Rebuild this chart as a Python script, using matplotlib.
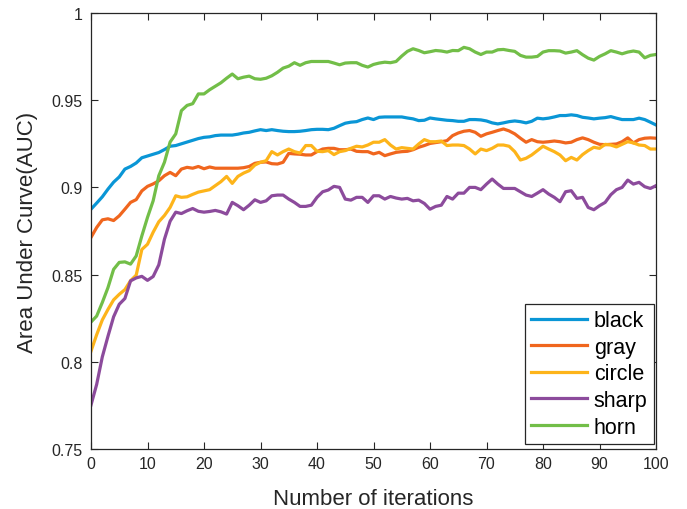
import numpy as np
import matplotlib
matplotlib.use('Agg')
import matplotlib.pyplot as plt

plt.rcParams['font.family'] = ['Liberation Sans', 'DejaVu Sans']

# AUC 读数（每次迭代一个点）
iterations = np.arange(0, 101)

black = [0.8875, 0.891, 0.8946, 0.899, 0.903, 0.906, 0.9105, 0.912, 0.914, 0.917, 0.918,
         0.919, 0.920, 0.9217, 0.9236, 0.924, 0.925, 0.926, 0.927, 0.928, 0.9287,
         0.929, 0.9297, 0.930, 0.930, 0.930, 0.9305, 0.9312, 0.9316, 0.9324, 0.9331,
         0.9326, 0.9331, 0.9326, 0.9322, 0.932, 0.932, 0.9322, 0.9326, 0.9331, 0.9333,
         0.9333, 0.9331, 0.9339, 0.9354, 0.9368, 0.9374, 0.9377, 0.9389, 0.9398, 0.9389,
         0.9402, 0.9404, 0.9404, 0.9404, 0.9404, 0.9398, 0.9393, 0.9383, 0.9385, 0.9398,
         0.9393, 0.9389, 0.9385, 0.9383, 0.9379, 0.9379, 0.9389, 0.9389, 0.9387, 0.9381,
         0.937, 0.9364, 0.937, 0.9377, 0.9381, 0.9377, 0.937, 0.9379, 0.9397, 0.9393,
         0.9397, 0.9404, 0.9412, 0.9412, 0.9416, 0.9412, 0.9402, 0.9398, 0.9393, 0.9397,
         0.94, 0.9406, 0.9397, 0.9389, 0.9389, 0.9389, 0.9397, 0.9389, 0.9374, 0.9358]

gray = [0.8713, 0.877, 0.8814, 0.882, 0.881, 0.8837, 0.8875, 0.8914, 0.893, 0.898, 0.9006,
        0.902, 0.9038, 0.9067, 0.9086, 0.9067, 0.9105, 0.9115, 0.911, 0.912, 0.9107,
        0.9117, 0.911, 0.911, 0.911, 0.911, 0.911, 0.9113, 0.912, 0.9138, 0.9144,
        0.9146, 0.9136, 0.9134, 0.9144, 0.9195, 0.9192, 0.919, 0.9186, 0.9186, 0.9205,
        0.922, 0.9224, 0.9224, 0.9216, 0.9216, 0.922, 0.9207, 0.9205, 0.9205, 0.9192,
        0.9201, 0.9182, 0.9192, 0.9201, 0.9205, 0.9207, 0.9216, 0.923, 0.924, 0.9252,
        0.9257, 0.9262, 0.9268, 0.9297, 0.9312, 0.9322, 0.9326, 0.9316, 0.9293, 0.9307,
        0.9316, 0.9326, 0.9335, 0.9324, 0.9307, 0.9282, 0.9259, 0.9274, 0.9262, 0.9259,
        0.9262, 0.9266, 0.9262, 0.9255, 0.9259, 0.9274, 0.9284, 0.9274, 0.9259, 0.9247,
        0.9245, 0.9247, 0.9249, 0.9262, 0.9284, 0.9255, 0.9274, 0.9282, 0.9284, 0.9282]

circle = [0.8061, 0.8155, 0.824, 0.830, 0.8355, 0.8387, 0.8414, 0.8465, 0.8497, 0.8644, 0.8674,
          0.8743, 0.8803, 0.8839, 0.8885, 0.8952, 0.8943, 0.8946, 0.896, 0.8973, 0.898,
          0.8987, 0.901, 0.9033, 0.9063, 0.9023, 0.9063, 0.9082, 0.9096, 0.9128, 0.9144,
          0.9153, 0.9205, 0.9186, 0.9205, 0.922, 0.9205, 0.9197, 0.924, 0.924, 0.9207,
          0.9205, 0.9211, 0.9188, 0.9205, 0.9211, 0.9224, 0.9236, 0.9232, 0.9243, 0.9259,
          0.9259, 0.9274, 0.9243, 0.922, 0.9228, 0.9224, 0.922, 0.9249, 0.9274, 0.9262,
          0.9262, 0.9266, 0.924, 0.9243, 0.9243, 0.924, 0.922, 0.9192, 0.922, 0.9211,
          0.9224, 0.9243, 0.9243, 0.9236, 0.9205, 0.9157, 0.9167, 0.9186, 0.9211, 0.9236,
          0.922, 0.9205, 0.9186, 0.9153, 0.9172, 0.9157, 0.9188, 0.9211, 0.923, 0.9224,
          0.9247, 0.9243, 0.9232, 0.9247, 0.9262, 0.9255, 0.9243, 0.924, 0.922, 0.922]

sharp = [0.7752, 0.787, 0.8028, 0.8146, 0.8258, 0.833, 0.8363, 0.8464, 0.8481, 0.849, 0.8467,
         0.8489, 0.8556, 0.8703, 0.8806, 0.8858, 0.885, 0.8866, 0.8879, 0.8863, 0.8858,
         0.8862, 0.8868, 0.886, 0.8847, 0.8914, 0.8895, 0.8872, 0.8898, 0.8929, 0.8914,
         0.8923, 0.8952, 0.8956, 0.8956, 0.8933, 0.8914, 0.8891, 0.8891, 0.8898, 0.8943,
         0.8975, 0.8985, 0.9006, 0.9, 0.8933, 0.8927, 0.8943, 0.8943, 0.8914, 0.8952,
         0.8952, 0.8933, 0.8948, 0.8939, 0.8933, 0.8937, 0.8923, 0.8927, 0.8908, 0.8875,
         0.8891, 0.8898, 0.8948, 0.8933, 0.8967, 0.8967, 0.9, 0.9, 0.8987, 0.9019,
         0.9048, 0.9019, 0.8994, 0.8994, 0.8994, 0.8975, 0.8956, 0.8948, 0.8967, 0.8987,
         0.8962, 0.8943, 0.8918, 0.8975, 0.8981, 0.8937, 0.8943, 0.8885, 0.8872, 0.8895,
         0.8914, 0.8958, 0.8987, 0.9, 0.9042, 0.9019, 0.9029, 0.9004, 0.8994, 0.901]

horn = [0.8228, 0.8262, 0.834, 0.8425, 0.853, 0.857, 0.8573, 0.856, 0.8607, 0.8722, 0.8828,
        0.8923, 0.9067, 0.9144, 0.926, 0.9307, 0.944, 0.947, 0.948, 0.9536, 0.9536,
        0.956, 0.958, 0.96, 0.9626, 0.965, 0.9623, 0.9632, 0.9638, 0.9623, 0.962,
        0.9626, 0.964, 0.966, 0.9684, 0.9695, 0.9715, 0.97, 0.9715, 0.9722, 0.9722,
        0.9722, 0.9722, 0.9713, 0.9703, 0.9713, 0.9715, 0.9715, 0.97, 0.969, 0.9705,
        0.9713, 0.9718, 0.9715, 0.9722, 0.9753, 0.978, 0.9795, 0.9785, 0.9772, 0.9778,
        0.9785, 0.9782, 0.9776, 0.9785, 0.9784, 0.9803, 0.9795, 0.9776, 0.9762, 0.9776,
        0.9776, 0.9789, 0.9791, 0.9785, 0.978, 0.9757, 0.9747, 0.9747, 0.9751, 0.9776,
        0.9784, 0.9784, 0.9782, 0.977, 0.9776, 0.9784, 0.9761, 0.9741, 0.973, 0.9751,
        0.9766, 0.9784, 0.9776, 0.9766, 0.9776, 0.9782, 0.9776, 0.9743, 0.9757, 0.9762]

series = [('black', black, '#0A96D6'),
          ('gray', gray, '#F0661E'),
          ('circle', circle, '#FDB41A'),
          ('sharp', sharp, '#8C4B9C'),
          ('horn', horn, '#72BE48')]

fig = plt.figure(figsize=(6.87, 5.10), dpi=100)
ax = fig.add_axes([91 / 687, 60 / 510, 565 / 687, 436 / 510])

for name, vals, col in series:
    ax.plot(iterations, vals, color=col, linewidth=2.3, label=name)

ax.set_xlim(0, 100)
ax.set_ylim(0.75, 1.0)
ax.set_xticks(np.arange(0, 101, 10))
ax.set_yticks([0.75, 0.8, 0.85, 0.9, 0.95, 1.0])
ax.set_yticklabels(['0.75', '0.8', '0.85', '0.9', '0.95', '1'])

axcol = '#262626'
for sp in ax.spines.values():
    sp.set_color(axcol)
    sp.set_linewidth(0.9)
ax.tick_params(direction='in', top=True, right=True, length=5, width=0.8,
               colors=axcol, labelsize=11.5)
ax.tick_params(axis='y', pad=6)
ax.tick_params(axis='x', pad=5)

ax.set_xlabel('Number of iterations', fontsize=16, color=axcol, labelpad=12)
ax.set_ylabel('Area Under Curve(AUC)', fontsize=16, color=axcol, labelpad=10)

leg = ax.legend(loc='lower right', bbox_to_anchor=((654 - 91) / 565, 5 / 436),
                borderaxespad=0, fontsize=15.5, handlelength=2.6, handletextpad=0.3,
                labelspacing=0.26, borderpad=0.3, fancybox=False, framealpha=1)
leg.get_frame().set_edgecolor('#262626')
leg.get_frame().set_linewidth(0.9)
for line in leg.get_lines():
    line.set_linewidth(2.3)

fig.savefig('out.png', dpi=100)
